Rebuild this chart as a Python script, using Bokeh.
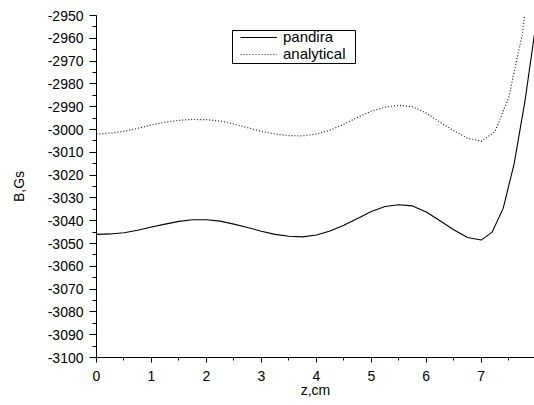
from bokeh.plotting import figure
from bokeh.models import (SingleIntervalTicker, Range1d, Legend, LegendItem,
                          PrintfTickFormatter, BoxAnnotation)
from bokeh.embed import file_html
from bokeh.resources import INLINE

# pandira (solid) data
z_pandira = [0.0, 0.25, 0.5, 0.75, 1.0, 1.25, 1.5, 1.75, 2.0, 2.25, 2.5, 2.75,
             3.0, 3.25, 3.5, 3.75, 4.0, 4.25, 4.5, 4.75, 5.0, 5.25, 5.5, 5.75,
             6.0, 6.25, 6.5, 6.75, 7.0, 7.2, 7.4, 7.6, 7.8, 8.0]
b_pandira = [-3046.0, -3045.8, -3045.3, -3044.2, -3042.8, -3041.5, -3040.3, -3039.6,
             -3039.6, -3040.2, -3041.5, -3043.0, -3044.6, -3046.0, -3046.8, -3047.1,
             -3046.3, -3044.5, -3042.0, -3039.0, -3036.0, -3033.8, -3033.0, -3033.5,
             -3036.2, -3040.0, -3044.0, -3047.4, -3048.5, -3045.0, -3034.6, -3015.0,
             -2987.0, -2953.0]

# analytical (dotted) data
z_analytical = [0.0, 0.25, 0.5, 0.75, 1.0, 1.25, 1.5, 1.75, 2.0, 2.25, 2.5, 2.75,
                3.0, 3.25, 3.5, 3.75, 4.0, 4.25, 4.5, 4.75, 5.0, 5.25, 5.5, 5.75,
                6.0, 6.25, 6.5, 6.75, 7.0, 7.25, 7.5, 7.75, 7.85]
b_analytical = [-3002.0, -3001.6, -3000.8, -2999.5, -2998.0, -2996.8, -2996.0, -2995.6,
                -2995.7, -2996.3, -2997.6, -2999.2, -3000.8, -3002.0, -3002.7, -3002.8,
                -3002.0, -3000.3, -2997.7, -2994.7, -2992.0, -2990.2, -2989.4, -2990.0,
                -2992.8, -2996.8, -3000.5, -3003.8, -3005.2, -3001.0, -2986.0, -2958.0,
                -2938.0]

series_names = ["pandira", "analytical"]
x_label = "z,cm"
y_label = "B,Gs"

FONT = "Liberation Sans"

p = figure(width=534, height=405, output_backend="svg", toolbar_location=None,
           x_range=Range1d(0, 7.97), y_range=Range1d(-3100, -2950),
           min_border_left=96, min_border_right=0, min_border_top=15, min_border_bottom=48)
p.outline_line_color = None
p.xgrid.visible = False
p.ygrid.visible = False
p.background_fill_color = "white"
p.border_fill_color = "white"

r1 = p.line(z_pandira, b_pandira, line_color="black", line_width=1.1)
r2 = p.line(z_analytical, b_analytical, line_color="#222222", line_width=1.2, line_dash="1 2")

xa = p.xaxis[0]
xa.ticker = SingleIntervalTicker(interval=1, num_minor_ticks=2)
xa.axis_label = x_label
ya = p.yaxis[0]
ya.ticker = SingleIntervalTicker(interval=10, num_minor_ticks=2)
ya.formatter = PrintfTickFormatter(format="%d")
ya.axis_label = y_label

for ax in (xa, ya):
    ax.axis_line_color = "black"
    ax.major_tick_line_color = "black"
    ax.minor_tick_line_color = "black"
    ax.major_tick_in = 0
    ax.minor_tick_in = 0
    ax.major_label_text_font = FONT
    ax.major_label_text_font_size = "14px"
    ax.major_label_text_color = "black"
    ax.axis_label_text_font = FONT
    ax.axis_label_text_font_size = "14px"
    ax.axis_label_text_font_style = "normal"
    ax.axis_label_text_color = "black"

xa.major_tick_out = 5
xa.minor_tick_out = 3
xa.major_label_standoff = 8
xa.axis_label_standoff = -2
ya.major_tick_out = 7
ya.minor_tick_out = 4
ya.major_label_standoff = 6
ya.axis_label_standoff = 18

# legend frame (screen units, relative to the plot frame)
legend_box = BoxAnnotation(left=136, right=259, bottom=294, top=327,
                           left_units="screen", right_units="screen",
                           bottom_units="screen", top_units="screen",
                           fill_color="white", fill_alpha=1.0,
                           line_color="black", line_width=1, line_alpha=1.0)
p.add_layout(legend_box)


def make_legend(label, renderer, loc):
    lg = Legend(items=[LegendItem(label=label, renderers=[renderer])], location=loc)
    lg.border_line_color = None
    lg.background_fill_alpha = 0
    lg.label_text_font = FONT
    lg.label_text_font_size = "15px"
    lg.label_text_color = "black"
    lg.glyph_width = 37
    lg.glyph_height = 12
    lg.label_height = 12
    lg.label_standoff = 6
    lg.padding = 0
    lg.spacing = 0
    lg.margin = 0
    return lg


p.add_layout(make_legend(series_names[0], r1, (144, 312)))
p.add_layout(make_legend(series_names[1], r2, (144, 295)))

open("out.html", "w").write(file_html(p, INLINE))
